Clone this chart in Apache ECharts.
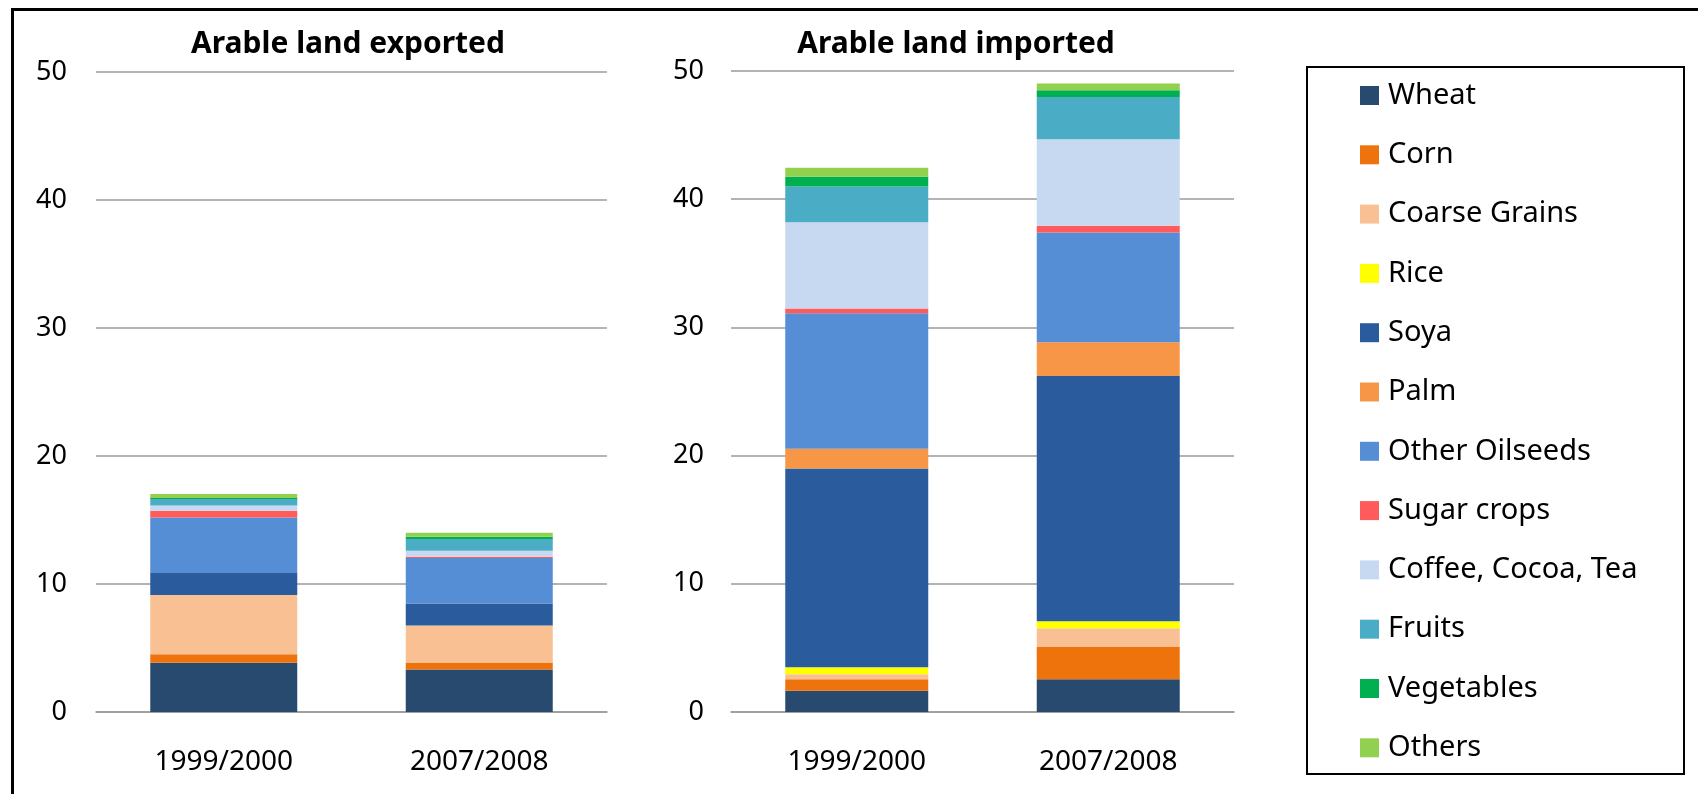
<!DOCTYPE html>
<html>
<head>
<meta charset="utf-8">
<title>Arable land exported and imported</title>
<script src="https://cdn.jsdelivr.net/npm/echarts@6/dist/echarts.min.js"></script>
<style>
  html, body { margin: 0; padding: 0; background: #fff; }
  #chart { width: 1698px; height: 794px; }
</style>
</head>
<body>
<div id="chart"></div>
<script>
// Periods shown on both panels
const periods = ['1999/2000', '2007/2008'];

// Crop groups, bottom to top of each stack
const crops = ['Wheat', 'Corn', 'Coarse Grains', 'Rice', 'Soya', 'Palm', 'Other Oilseeds',
  'Sugar crops', 'Coffee, Cocoa, Tea', 'Fruits', 'Vegetables', 'Others'];

const cropColors = ['#284a6f', '#ee730d', '#f9c193', '#ffff00', '#2a5c9d', '#f79646', '#558ed5',
  '#ff5b5b', '#c6d9f1', '#4bacc6', '#00b050', '#92d050'];

// Arable land exported, per crop: [1999/2000, 2007/2008]
const exWheat = [3.85, 3.33];
const exCorn = [0.67, 0.54];
const exCoarse = [4.63, 2.89];
const exRice = [0, 0];
const exSoya = [1.71, 1.71];
const exPalm = [0, 0];
const exOilseeds = [4.33, 3.56];
const exSugar = [0.53, 0.10];
const exCoffee = [0.42, 0.47];
const exFruits = [0.50, 0.91];
const exVegetables = [0.08, 0.18];
const exOthers = [0.32, 0.31];

// Arable land imported, per crop: [1999/2000, 2007/2008]
const imWheat = [1.65, 2.56];
const imCorn = [0.91, 2.51];
const imCoarse = [0.39, 1.46];
const imRice = [0.55, 0.55];
const imSoya = [15.49, 19.13];
const imPalm = [1.55, 2.63];
const imOilseeds = [10.57, 8.57];
const imSugar = [0.36, 0.52];
const imCoffee = [6.74, 6.75];
const imFruits = [2.79, 3.30];
const imVegetables = [0.75, 0.52];
const imOthers = [0.70, 0.52];

// Value axis ticks
const yTicks = [0, 10, 20, 30, 40, 50];

const exported = [exWheat, exCorn, exCoarse, exRice, exSoya, exPalm, exOilseeds,
  exSugar, exCoffee, exFruits, exVegetables, exOthers];
const imported = [imWheat, imCorn, imCoarse, imRice, imSoya, imPalm, imOilseeds,
  imSugar, imCoffee, imFruits, imVegetables, imOthers];

const FONT = 'Noto Sans';
const gridLine = { show: true, lineStyle: { color: '#9a9a9a', width: 1.5 } };

function valueAxis(gridIndex, labelMargin) {
  return {
    type: 'value', gridIndex: gridIndex,
    min: yTicks[0], max: yTicks[yTicks.length - 1], interval: yTicks[1] - yTicks[0],
    axisLine: { show: false }, axisTick: { show: false },
    axisLabel: { color: '#000', fontFamily: FONT, fontSize: 27, margin: labelMargin },
    splitLine: gridLine
  };
}

function categoryAxis(gridIndex) {
  return {
    type: 'category', gridIndex: gridIndex, data: periods,
    axisLine: { show: true, lineStyle: { color: '#9a9a9a', width: 1.5 } },
    axisTick: { show: false },
    axisLabel: { color: '#000', fontFamily: FONT, fontSize: 28, margin: 36 }
  };
}

function stackSeries(values, axisIndex, stackName, barWidth) {
  return crops.map((name, i) => ({
    name: name, type: 'bar', stack: stackName,
    xAxisIndex: axisIndex, yAxisIndex: axisIndex,
    barWidth: barWidth,
    itemStyle: { color: cropColors[i] },
    emphasis: { disabled: true },
    data: values[i]
  }));
}

const chart = echarts.init(document.getElementById('chart'), null, { renderer: 'canvas' });

chart.setOption({
  animation: false,
  backgroundColor: '#fff',
  color: cropColors,
  title: [
    { text: 'Arable land exported', left: 343, top: 24, textAlign: 'center',
      textStyle: { fontFamily: FONT, fontSize: 30, fontWeight: 'bold', color: '#000' } },
    { text: 'Arable land imported', left: 951, top: 24, textAlign: 'center',
      textStyle: { fontFamily: FONT, fontSize: 30, fontWeight: 'bold', color: '#000' } }
  ],
  grid: [
    { left: 96, top: 72, width: 511, height: 640 },   // exported
    { left: 731, top: 71, width: 503, height: 641 }   // imported
  ],
  xAxis: [categoryAxis(0), categoryAxis(1)],
  yAxis: [valueAxis(0, 29), valueAxis(1, 27)],
  legend: {
    data: crops,
    orient: 'vertical',
    left: 1360, top: 81, height: 700,
    padding: 0,
    itemWidth: 19, itemHeight: 19, itemGap: 30.3,
    icon: 'rect',
    selectedMode: false,
    textStyle: { fontFamily: FONT, fontSize: 29, color: '#000', padding: [0, 0, 0, 4] }
  },
  graphic: [
    { type: 'rect', silent: true, z: 100,
      shape: { x: 12.5, y: 9.5, width: 1800, height: 900 },
      style: { fill: null, stroke: '#000', lineWidth: 3 } },
    { type: 'rect', silent: true, z: 100,
      shape: { x: 1307, y: 67, width: 377, height: 707 },
      style: { fill: null, stroke: '#000', lineWidth: 2 } }
  ],
  series: [].concat(
    stackSeries(exported, 0, 'exported', 147),
    stackSeries(imported, 1, 'imported', 143)
  )
});
</script>
</body>
</html>
